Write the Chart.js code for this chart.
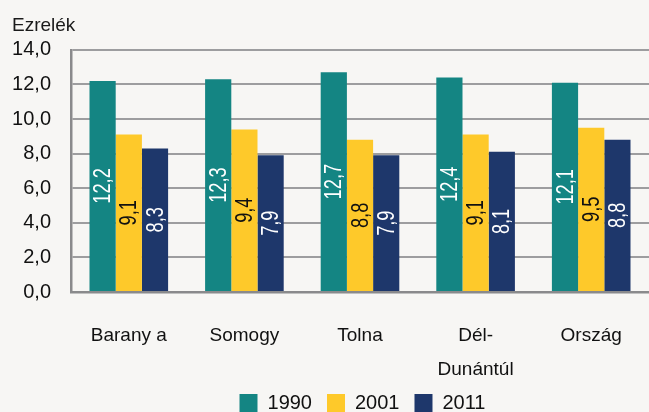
<!DOCTYPE html>
<html>
<head>
<meta charset="utf-8">
<script src="https://cdn.jsdelivr.net/npm/chart.js@4/dist/chart.umd.min.js"></script>
<style>
  html, body { margin: 0; padding: 0; background: #f7f6f4; overflow: hidden; }
  #wrap { width: 649px; height: 412px; overflow: hidden; }
  canvas { display: block; }
</style>
</head>
<body>
<div id="wrap"><canvas id="c" width="649" height="423"></canvas></div>
<script>
const categories = [["Barany a"], ["Somogy"], ["Tolna"], ["Dél-", "Dunántúl"], ["Ország"]];
const years = ["1990", "2001", "2011"];
const values1990 = [12.2, 12.3, 12.7, 12.4, 12.1];
const values2001 = [9.1, 9.4, 8.8, 9.1, 9.5];
const values2011 = [8.3, 7.9, 7.9, 8.1, 8.8];
const yTicks = [0, 2, 4, 6, 8, 10, 12, 14];
const unitTitle = "Ezrelék";

const colors = ["#148583", "#fec92a", "#1e376b"];
const labelColors = ["#ffffff", "#111111", "#ffffff"];
const fmt = v => v.toFixed(1).replace('.', ',');
const FONT = "'Liberation Sans', Arial, sans-serif";

const valueLabels = {
  id: 'valueLabels',
  afterDatasetsDraw(chart) {
    const ctx = chart.ctx;
    chart.data.datasets.forEach((ds, di) => {
      const meta = chart.getDatasetMeta(di);
      meta.data.forEach((bar, i) => {
        const cy = (bar.y + bar.base) / 2;
        ctx.save();
        ctx.translate(bar.x, cy);
        ctx.rotate(-Math.PI / 2);
        ctx.scale(0.76, 1);
        ctx.font = "24px " + FONT;
        ctx.fillStyle = labelColors[di];
        ctx.textAlign = 'center';
        ctx.textBaseline = 'middle';
        ctx.fillText(fmt(ds.data[i]), 0, 1);
        ctx.restore();
      });
    });
  }
};

// center the legend under the plot area rather than the whole canvas
const legendShift = {
  id: 'legendShift',
  afterLayout(chart) {
    const lg = chart.legend;
    if (!lg) return;
    const d = 32;
    lg.left += d;
    lg.right += d;
  }
};

new Chart(document.getElementById('c'), {
  type: 'bar',
  data: {
    labels: categories,
    datasets: [
      { label: years[0], data: values1990, backgroundColor: colors[0] },
      { label: years[1], data: values2001, backgroundColor: colors[1] },
      { label: years[2], data: values2011, backgroundColor: colors[2] }
    ]
  },
  options: {
    responsive: false,
    animation: false,
    devicePixelRatio: 1,
    layout: { padding: { left: 12, right: 0, top: 0, bottom: 0 } },
    datasets: { bar: { categoryPercentage: 0.68, barPercentage: 1.0, borderWidth: 0 } },
    plugins: {
      tooltip: { enabled: false },
      title: {
        display: true,
        text: unitTitle,
        align: 'start',
        color: '#1a1a1a',
        font: { family: FONT, size: 19, weight: 'normal', lineHeight: 1.2 },
        padding: { top: 14, bottom: 13 }
      },
      legend: {
        position: 'bottom',
        align: 'center',
        labels: {
          boxWidth: 18,
          boxHeight: 18,
          padding: 15,
          color: '#111111',
          font: { family: FONT, size: 20 }
        }
      }
    },
    scales: {
      x: {
        grid: { display: false, drawTicks: false },
        border: { display: true, color: '#8a8a8c', width: 2.5 },
        ticks: {
          autoSkip: false,
          maxRotation: 0,
          padding: 27,
          color: '#111111',
          font: { family: FONT, size: 19, lineHeight: 1.789 }
        },
        afterFit(scale) { scale.height = 86; }
      },
      y: {
        min: 0,
        max: 14,
        afterBuildTicks(scale) { scale.ticks = yTicks.map(v => ({ value: v })); },
        grid: { color: '#9d9d9f', lineWidth: 2, drawTicks: false },
        border: { display: true, color: '#8a8a8c', width: 2.5 },
        ticks: {
          padding: 20,
          color: '#111111',
          font: { family: FONT, size: 20 },
          callback: v => fmt(v)
        },
        afterFit(scale) { scale.width = 59; }
      }
    }
  },
  plugins: [valueLabels, legendShift]
});
</script>
</body>
</html>
